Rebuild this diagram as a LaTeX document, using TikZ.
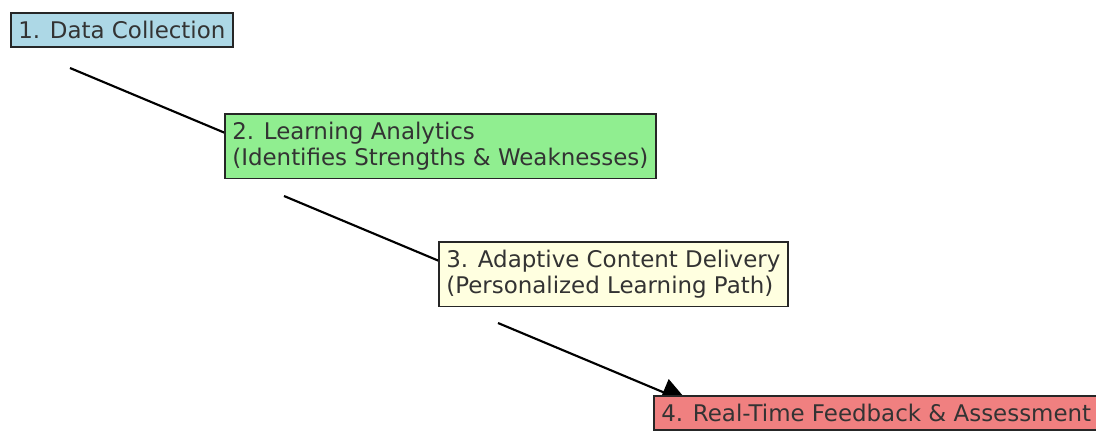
\documentclass[tikz,border=0pt]{standalone}
\usepackage{fontspec}
\setmainfont{DejaVu Sans}
\usetikzlibrary{arrows.meta,calc,backgrounds}
\definecolor{cBlue}{HTML}{ADD8E6}
\definecolor{cGreen}{HTML}{90EE90}
\definecolor{cYellow}{HTML}{FFFFE0}
\definecolor{cCoral}{HTML}{F08080}
\definecolor{cText}{HTML}{333333}
\tikzset{
  stepbox/.style={draw=black!85, line width=1.3pt, anchor=north west, align=left,
    inner xsep=5.6pt, inner ysep=6.2pt, text=cText,
    font=\fontsize{17.2pt}{19.5pt}\selectfont},
  flow/.style={line width=1.6pt, -{Triangle[length=21pt,width=21pt]}}
}
\begin{document}
\begin{tikzpicture}[x=0.75pt,y=-0.75pt]
\useasboundingbox (0,0) rectangle (1096,431);
\node[stepbox, fill=cBlue] (n1) at (10,12) {1. Data Collection};
\node[stepbox, fill=cGreen] (n2) at (224,113) {2. Learning Analytics\\(Identifies Strengths \& Weaknesses)};
\node[stepbox, fill=cYellow] (n3) at (438,241) {3. Adaptive Content Delivery\\(Personalized Learning Path)};
\node[stepbox, fill=cCoral] (n4) at (653,395) {4. Real-Time Feedback \& Assessment};
\coordinate (s1) at (70,68);
\coordinate (s2) at (284,196);
\coordinate (s3) at (498,323);
\coordinate (t2) at ($(s1)+(191,80)$);
\coordinate (t3) at ($(s2)+(191,80)$);
\coordinate (t4) at ($(s3)+(191,80)$);
\begin{scope}[on background layer]
\draw[flow] (s1) -- (t2);
\draw[flow] (s2) -- (t3);
\draw[flow] (s3) -- (t4);
\end{scope}
\end{tikzpicture}
\end{document}
